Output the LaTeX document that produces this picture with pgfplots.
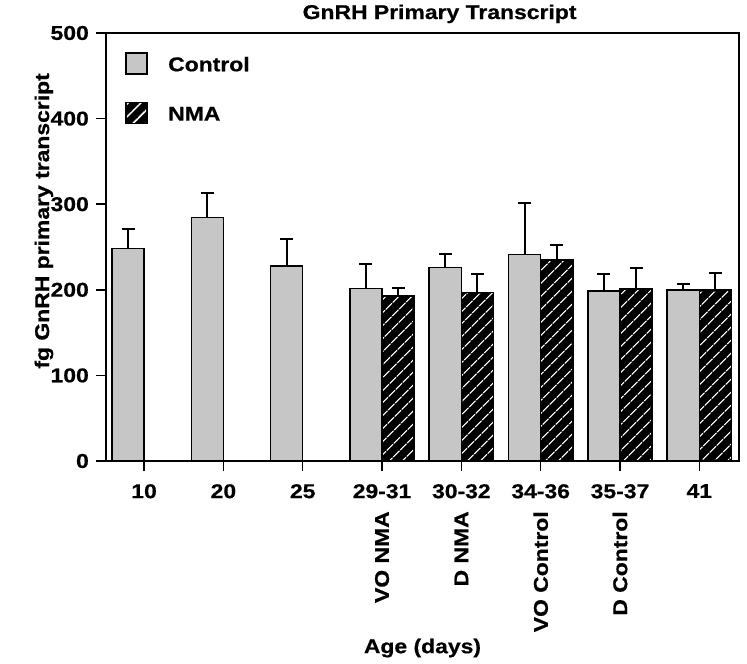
\documentclass[border=0pt]{standalone}
\usepackage{pgfplots}
\usepackage{pgfplotstable}
\pgfplotsset{compat=1.18}
\usepackage{fontspec}
\setmainfont{Liberation Sans}[FakeStretch=1.15, BoldFeatures={FakeBold=0.6}]
\usetikzlibrary{patterns.meta,calc}
\definecolor{ctrlgray}{RGB}{198,198,198}

\pgfplotstableread{
x  y      err
0  248.5  22
1  284.5  28.5
2  228    31
3  201.5  29
4  226    15.5
5  241    60.5
6  198.5  20
7  200    7
}\controldata

\pgfplotstableread{
x  y      err
3  193    9
4  197    22
5  235    17
6  201    24
7  200    20
}\nmadata

\newcommand{\legbox}{\pgfpathrectangle{\pgfpoint{0bp}{-3bp}}{\pgfpoint{42bp}{21.75bp}}\pgfusepath{use as bounding box}}

\begin{document}
\begin{tikzpicture}
\begin{axis}[
  scale only axis, width=633bp, height=428bp,
  xmin=-0.48, xmax=7.5, ymin=0, ymax=500,
  xtick={0,...,7},
  xticklabels={10,20,25,{29-31\\[12pt]\rotatebox{90}{VO NMA}},{30-32\\[12pt]\rotatebox{90}{D NMA}},{34-36\\[12pt]\rotatebox{90}{VO Control}},{35-37\\[12pt]\rotatebox{90}{D Control}},41},
  ytick={0,100,...,500},
  tick align=outside, xtick pos=bottom, ytick pos=left,
  major tick length=10bp,
  tick style={line width=1.5pt, black},
  axis line style={line width=2pt},
  /pgf/number format/assume math mode=true,
  ticklabel style={font=\fontsize{20}{24}\selectfont\bfseries},
  xticklabel style={align=center, anchor=north, inner sep=0pt, yshift=-13bp},
  yticklabel style={anchor=east, inner sep=0pt, xshift=-7bp},
  title={GnRH Primary Transcript},
  title style={font=\fontsize{20}{24}\selectfont\bfseries, at={(axis description cs:0.527,1)}, anchor=base, yshift=8bp},
  xlabel={Age (days)},
  xlabel style={font=\fontsize{20}{24}\selectfont\bfseries, at={(axis description cs:0.5,-0.449)}, anchor=base},
  ylabel={fg GnRH primary transcript},
  ylabel style={font=\fontsize{20}{24}\selectfont\bfseries, at={(axis description cs:-0.09,0.561)}, anchor=base},
  legend style={at={(axis description cs:0.0316,0.97)}, anchor=north west, draw=none, fill=none, inner sep=0pt,
    nodes={inner sep=0pt}, row sep=23bp, font=\fontsize{20}{24}\selectfont\bfseries},
  legend cell align=left,
  error bars/y dir=plus, error bars/y explicit,
  error bars/error bar style={line width=2pt, black},
  error bars/error mark options={rotate=90, mark size=6.5bp, line width=2pt, black},
]
\addplot[ybar, bar width=0.405, bar shift=0pt, fill=ctrlgray, draw=black, line width=1.5pt,
  legend image code/.code={\legbox \draw[fill=ctrlgray, draw=black, line width=1.5pt] (0bp,-9bp) rectangle (21bp,12bp);}]
  table[x expr=\thisrow{x}-0.2025, y=y, y error=err] {\controldata};
\addlegendentry{Control}
\addplot[ybar, bar width=0.405, bar shift=0pt, fill=black, draw=black, line width=1.5pt,
  postaction={pattern={Lines[angle=45,distance=10bp,line width=1.3bp]}, pattern color=white},
  legend image code/.code={\legbox \draw[fill=black, draw=black, line width=1.5pt, postaction={pattern={Lines[angle=45,distance=9bp,line width=1.3bp]}, pattern color=white}] (0bp,-9bp) rectangle (21bp,12bp);}]
  table[x expr=\thisrow{x}+0.2025, y=y, y error=err] {\nmadata};
\addlegendentry{NMA}
\end{axis}
\pgfresetboundingbox
\path ($(current axis.south west)+(-106bp,-203bp)$) rectangle ($(current axis.north east)+(8bp,33bp)$);
\end{tikzpicture}
\end{document}
